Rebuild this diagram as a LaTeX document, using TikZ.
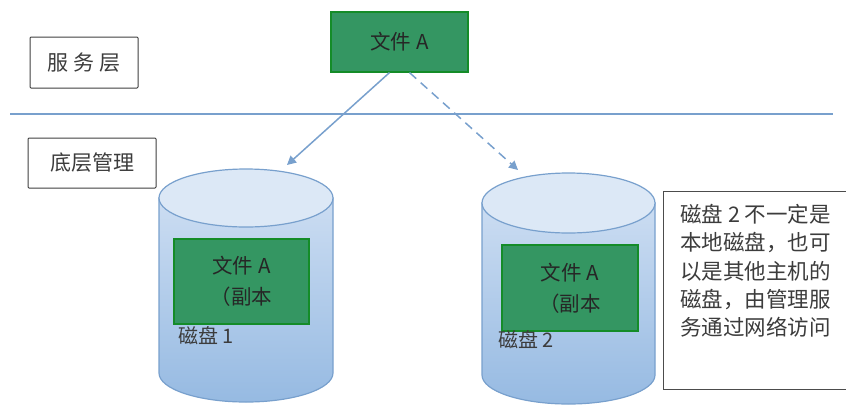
\documentclass[tikz,border=0pt]{standalone}
\usepackage{fontspec}
\setmainfont{Noto Sans CJK SC}
\usetikzlibrary{arrows.meta}
\definecolor{linkblue}{RGB}{120,160,205}
\definecolor{filegreen}{RGB}{52,150,98}
\definecolor{fileedge}{RGB}{20,140,40}
\definecolor{cyltop}{RGB}{220,232,246}
\definecolor{cylupper}{RGB}{204,221,242}
\definecolor{cyllower}{RGB}{150,186,226}
\definecolor{cyledge}{RGB}{120,160,205}
\definecolor{textgray}{RGB}{60,60,60}
\tikzset{
  layerbox/.style={draw=black!75, line width=1pt, rounded corners=1pt, fill=white,
    font=\fontsize{21}{24}\selectfont, text=textgray, inner sep=0pt},
  filebox/.style={draw=fileedge, fill=filegreen, line width=1.2pt, inner sep=0pt,
    font=\fontsize{20.5}{31}\selectfont, text=black!85, align=center},
  disklabel/.style={font=\fontsize{20}{22}\selectfont, text=textgray, anchor=west, inner sep=0pt},
  link/.style={draw=linkblue, line width=1.5pt, -{Triangle[length=9pt,width=9pt]}},
  notebox/.style={draw=black!70, line width=1pt, fill=white, inner sep=0pt},
}
\begin{document}
\begin{tikzpicture}[x=1pt,y=-1pt]
\useasboundingbox (0,0) rectangle (846,405);

% layer labels and divider
\node[layerbox, minimum width=108pt, minimum height=51pt] (svc) at (84,62.5) {服\hspace{5pt}务\hspace{5pt}层};
\node[layerbox, minimum width=128pt, minimum height=50pt] (base) at (92,163) {底层管理};
\draw[linkblue, line width=1.8pt] (10,114) -- (833,114);

% disk 1
\shade[top color=cylupper, bottom color=cyllower, draw=cyledge, line width=1.2pt]
  (159,198) -- (159,373) arc[start angle=180, end angle=360, x radius=87pt, y radius=29pt]
  -- (333,198) -- cycle;
\draw[fill=cyltop, draw=cyledge, line width=1.2pt] (246,198) ellipse[x radius=87pt, y radius=29pt];
\coordinate (d1top) at (287,165);

% disk 2
\shade[top color=cylupper, bottom color=cyllower, draw=cyledge, line width=1.2pt]
  (482,203) -- (482,375) arc[start angle=180, end angle=360, x radius=86.5pt, y radius=29pt]
  -- (655,203) -- cycle;
\draw[fill=cyltop, draw=cyledge, line width=1.2pt] (568.5,203) ellipse[x radius=86.5pt, y radius=30pt];
\coordinate (d2top) at (518,170);

% files
\node[filebox, minimum width=137pt, minimum height=60pt] (fa) at (399.5,42) {文件 A};
\node[filebox, minimum width=135pt, minimum height=85pt] (c1) at (241.5,281.5) {文件 A\\（副本};
\node[filebox, minimum width=136pt, minimum height=86pt] (c2) at (570,288) {文件 A\\（副本};
\node[disklabel] (l1) at (178,336) {磁盘 1};
\node[disklabel] (l2) at (498,340) {磁盘 2};

% links from the service file to its replicas
\draw[link] ([xshift=-10pt]fa.south) -- (d1top);
\draw[link, dashed, dash pattern=on 9pt off 6pt] ([xshift=10pt]fa.south) -- (d2top);

% note
\node[notebox, minimum width=190pt, minimum height=198pt, anchor=north west] (note) at (663,191) {};
\node[anchor=north west, inner sep=0pt, align=left, text=textgray,
  font=\fontsize{21.5}{28.3}\selectfont] (notetext) at (680,204)
  {磁盘 2 不一定是\\本地磁盘，也可\\以是其他主机的\\磁盘，由管理服\\务通过网络访问};
\end{tikzpicture}
\end{document}
